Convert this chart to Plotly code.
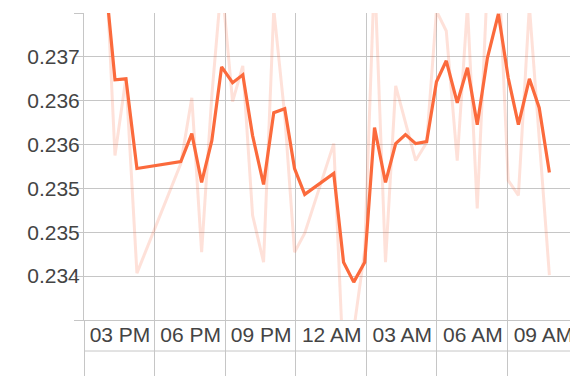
import plotly.graph_objects as go

times = [
    "2024-03-14 16:01", "2024-03-14 16:19", "2024-03-14 16:47", "2024-03-14 17:15",
    "2024-03-14 19:07", "2024-03-14 19:35", "2024-03-14 20:00", "2024-03-14 20:26",
    "2024-03-14 20:51", "2024-03-14 21:19", "2024-03-14 21:45", "2024-03-14 22:10",
    "2024-03-14 22:38", "2024-03-14 23:04", "2024-03-14 23:32", "2024-03-14 23:57",
    "2024-03-15 00:23", "2024-03-15 01:37", "2024-03-15 02:02", "2024-03-15 02:28",
    "2024-03-15 02:56", "2024-03-15 03:21", "2024-03-15 03:49", "2024-03-15 04:15",
    "2024-03-15 04:40", "2024-03-15 05:06", "2024-03-15 05:34", "2024-03-15 05:59",
    "2024-03-15 06:24", "2024-03-15 06:52", "2024-03-15 07:18", "2024-03-15 07:43",
    "2024-03-15 08:09", "2024-03-15 08:37", "2024-03-15 09:02", "2024-03-15 09:28",
    "2024-03-15 09:56", "2024-03-15 10:21", "2024-03-15 10:47",
]

raw_values = [
    0.237580, 0.235875, 0.236761, 0.234534,
    0.235784, 0.236534, 0.234773, 0.236557,
    0.237864, 0.236489, 0.236898, 0.235193,
    0.234659, 0.237545, 0.236330, 0.234773,
    0.234989, 0.236011, 0.233432, 0.233886,
    0.234795, 0.237977, 0.234659, 0.236670,
    0.236250, 0.235818, 0.236023, 0.237523,
    0.237295, 0.235818, 0.237580, 0.235273,
    0.237864, 0.238091, 0.235591, 0.235420,
    0.237580, 0.236102, 0.234511,
]

smooth_values = [
    0.237580, 0.236739, 0.236750, 0.235727,
    0.235807, 0.236125, 0.235568, 0.236045,
    0.236886, 0.236705, 0.236795, 0.236102,
    0.235545, 0.236364, 0.236409, 0.235727,
    0.235432, 0.235670, 0.234659, 0.234432,
    0.234659, 0.236193, 0.235568, 0.236011,
    0.236114, 0.236011, 0.236034, 0.236716,
    0.236955, 0.236477, 0.236875, 0.236227,
    0.236989, 0.237489, 0.236761, 0.236227,
    0.236750, 0.236420, 0.235682,
]

y_tickvals = [0.2340, 0.2345, 0.2350, 0.2355, 0.2360, 0.2365, 0.2370, 0.2375]
y_ticktext = ["", "0.234", "0.235", "0.235", "0.236", "0.236", "0.237", ""]

x_range = ["2024-03-14 15:00", "2024-03-15 12:00"]
y_range = [0.2340, 0.2375]

GRID = "#c6c6c6"
TEXT = "#444444"
FONT = "Liberation Sans, Arial, sans-serif"

fig = go.Figure()
fig.add_trace(go.Scatter(
    x=times, y=raw_values, mode="lines",
    line=dict(color="rgba(250,105,65,0.2)", width=3),
    hoverinfo="skip", showlegend=False,
))
fig.add_trace(go.Scatter(
    x=times, y=smooth_values, mode="lines",
    line=dict(color="#fb6a3c", width=3.2),
    showlegend=False,
))

fig.update_layout(
    width=570, height=368,
    margin=dict(l=76, r=0, t=5, b=56),
    paper_bgcolor="white", plot_bgcolor="white",
    font=dict(family=FONT, color=TEXT, size=21),
    xaxis=dict(
        type="date", range=x_range, automargin=False,
        dtick=3 * 3600 * 1000, tick0="2024-03-14 15:00",
        tickformat="%I %p", ticklabelshift=36,
        showgrid=True, gridcolor=GRID, gridwidth=1,
        ticks="outside", ticklen=56, tickcolor=GRID, tickwidth=1,
        ticklabelstandoff=-60,
        showline=True, linecolor=GRID, linewidth=1,
        zeroline=False,
        tickfont=dict(size=21, color=TEXT, family=FONT),
    ),
    yaxis=dict(
        range=y_range, tickmode="array", automargin=False,
        tickvals=y_tickvals, ticktext=y_ticktext,
        showgrid=True, gridcolor=GRID, gridwidth=1,
        ticks="outside", ticklen=9, tickcolor=GRID, tickwidth=1,
        ticklabelstandoff=-10,
        showline=True, linecolor=GRID, linewidth=1,
        zeroline=False,
        tickfont=dict(size=21, color=TEXT, family=FONT),
    ),
    shapes=[dict(
        type="line", xref="paper", yref="paper",
        x0=0, x1=1, y0=-0.101, y1=-0.101,
        line=dict(color=GRID, width=1),
    )],
)

fig.write_html("out.html")
